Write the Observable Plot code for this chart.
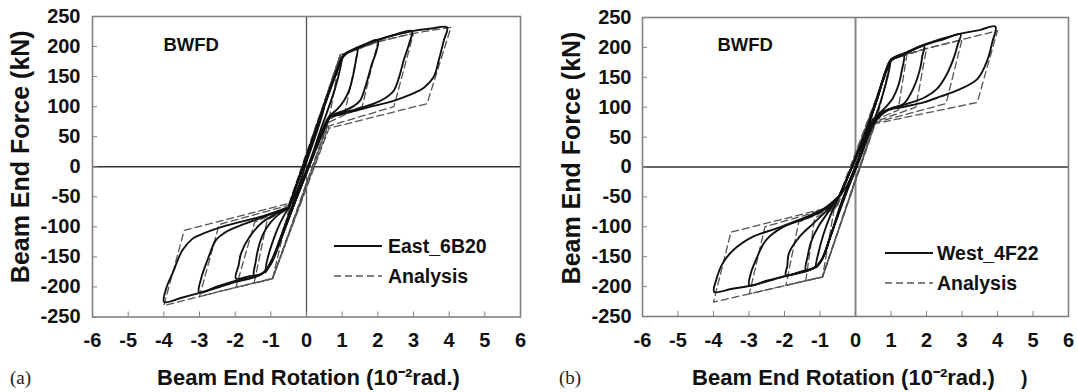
<!DOCTYPE html>
<html><head><meta charset="utf-8">
<script src="https://cdn.jsdelivr.net/npm/d3@7"></script>
<script src="https://cdn.jsdelivr.net/npm/@observablehq/plot@0.6"></script>
<style>
body{margin:0;background:#fff;}
#wrap{position:relative;width:1078px;height:392px;display:flex;}
.panel{position:relative;width:539px;height:392px;}
.panel svg{display:block;}
.tag{position:absolute;font-family:"Liberation Serif",serif;font-size:19px;line-height:22px;color:#222;}
.lt{position:absolute;font-family:"Liberation Sans",Arial,sans-serif;font-weight:bold;font-size:19.5px;line-height:22px;color:#111;white-space:nowrap;}
.sw{position:absolute;}
</style></head><body>
<div id="wrap"><div class="panel" id="pa"></div><div class="panel" id="pb"></div></div>
<script>
// ---- tick values ----
const xTicks = [-6,-5,-4,-3,-2,-1,0,1,2,3,4,5,6];
const yTicks = [-250,-200,-150,-100,-50,0,50,100,150,200,250];

// ---- (a) East_6B20 test cycles [rotation (10^-2 rad), force (kN)] ----
const eastTest05 = [[-0.45,-62],[-0.1,0],[0.25,58],[0.5,98],[0.3,60],[0,8],[-0.25,-38],[-0.45,-62]];
const eastTest1 = [[-0.5,-68],[-0.1,0],[0.3,68],[0.6,118],[0.85,160],[1.0,183],[0.95,165],[0.8,130],[0.6,95],[0.4,62],[0.1,10],[-0.2,-35],[-0.5,-80],[-0.8,-130],[-1.0,-160],[-1.15,-176],[-1.1,-155],[-0.95,-125],[-0.75,-95],[-0.5,-68]];
const eastTest15 = [[-0.5,-68],[-0.1,0],[0.4,85],[0.8,152],[1.05,186],[1.25,192],[1.42,196],[1.38,175],[1.3,150],[1.2,128],[1.05,110],[0.85,95],[0.65,85],[0.45,62],[0.1,5],[-0.3,-55],[-0.7,-115],[-1.0,-158],[-1.2,-176],[-1.47,-181],[-1.43,-160],[-1.35,-135],[-1.2,-110],[-1.0,-92],[-0.75,-78],[-0.5,-68]];
const eastTest2 = [[-0.5,-68],[-0.1,0],[0.4,85],[0.8,150],[1.0,180],[1.15,190],[1.5,199],[2.0,211],[1.95,190],[1.84,172],[1.65,133],[1.5,110],[1.3,100],[1.0,92],[0.7,85],[0.5,65],[0.1,8],[-0.3,-52],[-0.7,-115],[-1.0,-160],[-1.25,-178],[-1.6,-182],[-1.98,-186],[-1.9,-163],[-1.84,-145],[-1.6,-117],[-1.23,-92],[-0.9,-80],[-0.5,-68]];
const eastTest3 = [[-0.5,-68],[-0.1,0],[0.4,85],[0.8,152],[1.05,185],[1.3,195],[2.0,211],[2.5,220],[2.95,226],[2.88,205],[2.73,178],[2.6,150],[2.45,127],[2.2,114],[1.89,105],[1.4,96],[0.9,88],[0.65,82],[0.45,58],[0.1,5],[-0.3,-55],[-0.7,-118],[-1.0,-160],[-1.25,-178],[-2.0,-190],[-2.5,-199],[-3.01,-209],[-2.95,-185],[-2.78,-156],[-2.54,-122],[-2.3,-110],[-2.07,-103],[-1.5,-90],[-1.0,-79],[-0.5,-68]];
const eastTest4 = [[-0.5,-68],[-0.1,0],[0.4,85],[0.8,152],[1.05,186],[1.4,197],[2.0,211],[3.0,226],[3.5,230],[3.94,232],[3.85,210],[3.72,180],[3.57,150],[3.3,132],[3.1,125],[2.7,115],[2.35,108],[1.8,100],[1.42,94],[0.9,86],[0.67,83],[0.5,62],[0.1,5],[-0.3,-55],[-0.7,-118],[-1.0,-162],[-1.3,-180],[-2.0,-192],[-3.0,-210],[-3.5,-218],[-3.99,-225],[-3.92,-200],[-3.76,-178],[-3.48,-139],[-3.2,-120],[-3.01,-114],[-2.26,-98],[-1.33,-84],[-0.5,-67]];

// ---- (a) analysis cycles ----
const eastAna1 = [[-0.49,-70],[0.95,186],[0.63,78],[-0.95,-186],[-0.49,-70]];
const eastAna15 = [[-0.49,-70],[0.95,186],[1.45,196],[1.09,94],[0.63,78],[-0.95,-186],[-1.47,-194],[-1.1,-88],[-0.49,-70]];
const eastAna2 = [[-0.49,-68],[0.95,186],[1.45,196],[2.0,208],[1.56,100],[0.63,74],[-0.95,-186],[-1.98,-201],[-1.45,-92],[-0.49,-68]];
const eastAna3 = [[-0.49,-64],[0.95,186],[1.45,196],[2.0,208],[3.0,222],[2.45,100],[0.63,68],[-0.95,-186],[-2.0,-201],[-3.0,-216],[-2.45,-96],[-0.49,-64]];
const eastAna4 = [[-0.49,-61],[0.95,186],[1.45,196],[2.0,208],[3.0,222],[4.05,232],[3.38,105],[0.63,64],[-0.95,-186],[-2.0,-201],[-3.0,-216],[-4.0,-231],[-3.43,-106],[-0.49,-61]];

// ---- (b) West_4F22 test cycles ----
const westTest05 = [[-0.45,-48],[-0.1,0],[0.3,55],[0.5,82],[0.25,42],[0,2],[-0.25,-32],[-0.45,-48]];
const westTest1 = [[-0.45,-48],[-0.1,0],[0.3,60],[0.6,115],[0.85,160],[0.99,178],[0.9,150],[0.7,108],[0.52,78],[0.2,28],[-0.1,-15],[-0.4,-60],[-0.7,-115],[-0.95,-155],[-1.12,-168],[-1.05,-145],[-0.9,-112],[-0.7,-80],[-0.45,-48]];
const westTest15 = [[-0.45,-48],[-0.1,0],[0.3,60],[0.6,112],[0.85,158],[1.0,178],[1.2,184],[1.36,187],[1.3,160],[1.2,135],[1.05,115],[0.85,100],[0.6,85],[0.45,68],[0.1,15],[-0.3,-45],[-0.7,-115],[-0.95,-155],[-1.15,-168],[-1.4,-172],[-1.35,-150],[-1.25,-125],[-1.05,-100],[-0.8,-78],[-0.45,-48]];
const westTest2 = [[-0.45,-48],[-0.1,0],[0.3,60],[0.6,112],[0.85,160],[1.0,178],[1.4,189],[1.93,203],[1.88,185],[1.83,167],[1.64,133],[1.36,106],[1.0,98],[0.7,90],[0.5,72],[0.1,12],[-0.3,-48],[-0.7,-115],[-0.95,-155],[-1.15,-168],[-1.5,-174],[-1.96,-181],[-1.92,-165],[-1.88,-145],[-1.58,-117],[-1.2,-95],[-0.8,-72],[-0.45,-48]];
const westTest3 = [[-0.45,-48],[-0.1,0],[0.3,60],[0.6,112],[0.85,160],[1.0,179],[1.4,190],[1.95,204],[2.5,214],[2.96,222],[2.88,205],[2.8,188],[2.58,156],[2.3,131],[1.9,115],[1.3,103],[0.9,95],[0.52,74],[0.1,12],[-0.3,-48],[-0.7,-115],[-0.95,-155],[-1.15,-168],[-1.96,-182],[-2.5,-190],[-2.99,-198],[-2.95,-178],[-2.81,-156],[-2.53,-123],[-2.06,-101],[-1.4,-86],[-0.85,-70],[-0.45,-48]];
const westTest4 = [[-0.45,-48],[-0.1,0],[0.3,60],[0.6,112],[0.85,160],[1.0,180],[1.4,191],[1.95,205],[2.96,223],[3.5,229],[3.94,235],[3.85,208],[3.71,178],[3.43,147],[2.86,128],[2.4,118],[1.92,108],[1.3,100],[0.89,94],[0.52,72],[0.1,10],[-0.3,-50],[-0.7,-115],[-0.95,-155],[-1.2,-170],[-2.0,-183],[-3.0,-199],[-3.5,-204],[-3.98,-209],[-3.92,-188],[-3.75,-162],[-3.46,-140],[-2.9,-117],[-2.24,-103],[-1.4,-84],[-0.9,-70],[-0.45,-48]];

// ---- (b) analysis cycles ----
const westAna1 = [[-0.6,-70],[1.0,180],[0.62,84],[-0.93,-184],[-0.6,-70]];
const westAna15 = [[-0.58,-70],[1.0,180],[1.45,189],[1.2,95],[0.6,80],[-0.93,-184],[-1.4,-190],[-1.15,-85],[-0.58,-70]];
const westAna2 = [[-0.55,-67],[1.0,180],[1.45,189],[2.0,198],[1.7,100],[0.56,76],[-0.93,-184],[-1.4,-190],[-1.96,-198],[-1.6,-92],[-0.55,-67]];
const westAna3 = [[-0.52,-65],[1.0,180],[2.0,198],[3.0,213],[2.55,106],[0.54,74],[-0.93,-184],[-1.96,-198],[-2.99,-212],[-2.55,-100],[-0.52,-65]];
const westAna4 = [[-0.5,-64],[1.0,180],[2.0,198],[3.0,213],[4.0,228],[3.43,108],[0.52,72],[-0.93,-184],[-1.96,-198],[-2.99,-212],[-4.0,-226],[-3.51,-109],[-0.5,-64]];

const eastLabel = "East_6B20", westLabel = "West_4F22", anaLabel = "Analysis";
const yTitle = "Beam End Force (kN)";
const xTitle = "Beam End Rotation (10\u207B\u00B2rad.)";

function rows(list){
  return list.flatMap(([name, pts]) => pts.map(([x, y]) => ({cycle: name, x, y})));
}

const FONT = "'Liberation Sans', Arial, sans-serif";

function makePanel(cfg){
  return Plot.plot({
    width: 539, height: 392,
    marginLeft: cfg.ml, marginRight: cfg.mr, marginTop: cfg.mt, marginBottom: cfg.mb,
    style: {fontFamily: FONT, fontWeight: "bold", fontSize: "20px", color: "#111", background: "#fff", overflow: "visible"},
    x: {domain: [-6, 6], label: null},
    y: {domain: [-250, 250], label: null},
    marks: [
      Plot.ruleX([0], {stroke: cfg.vz, strokeWidth: cfg.vzw}),
      Plot.ruleY([0], {stroke: "#333", strokeWidth: 1.3}),
      Plot.line(cfg.ana, {x: "x", y: "y", z: "cycle", stroke: "#555", strokeWidth: 1.3, strokeDasharray: "7,4"}),
      Plot.line(cfg.test, {x: "x", y: "y", z: "cycle", stroke: "#111", strokeWidth: 1.9, curve: "catmull-rom", strokeLinejoin: "round"}),
      Plot.frame({stroke: "#808080", strokeWidth: 1.6}),
      Plot.axisX({ticks: xTicks, tickSize: -5, tickFormat: () => "", stroke: "#808080", label: null}),
      Plot.axisX({ticks: xTicks, tickSize: 0, tickPadding: 16, tickFormat: d => String(d), label: null, fill: "#111", fontSize: 20}),
      Plot.axisY({ticks: yTicks, tickSize: -5, tickFormat: () => "", stroke: "#808080", label: null}),
      Plot.axisY({ticks: yTicks, tickSize: 0, tickPadding: cfg.ypad, tickFormat: d => String(d), label: null, fill: "#111", fontSize: 20}),
      Plot.text([yTitle], {text: d => d, frameAnchor: "left", rotate: -90, dx: cfg.ytx, dy: cfg.yty, fontSize: 25, textAnchor: "middle", lineAnchor: "middle", fill: "#111"}),
      Plot.text([xTitle], {text: d => d, frameAnchor: "bottom", dx: cfg.xtx, dy: 61, fontSize: 22, textAnchor: "middle", lineAnchor: "middle", fill: "#111"}),
      Plot.text(["BWFD"], {text: d => d, frameAnchor: "top-left", dx: cfg.bx, dy: cfg.by, fontSize: 18.5, textAnchor: "start", lineAnchor: "middle", fill: "#111"})
    ]
  });
}

const eastTestRows = rows([["0.5", eastTest05], ["1", eastTest1], ["1.5", eastTest15], ["2", eastTest2], ["3", eastTest3], ["4", eastTest4]]);
const eastAnaRows = rows([["1", eastAna1], ["1.5", eastAna15], ["2", eastAna2], ["3", eastAna3], ["4", eastAna4]]);
const westTestRows = rows([["0.5", westTest05], ["1", westTest1], ["1.5", westTest15], ["2", westTest2], ["3", westTest3], ["4", westTest4]]);
const westAnaRows = rows([["1", westAna1], ["1.5", westAna15], ["2", westAna2], ["3", westAna3], ["4", westAna4]]);

const pa = document.getElementById("pa"), pb = document.getElementById("pb");
pa.append(makePanel({ml: 92, mr: 19, mt: 16, mb: 75.5, ypad: 12, ytx: -72, yty: -10, xtx: 2, bx: 71, by: 29, vz: "#555", vzw: 1.3, test: eastTestRows, ana: eastAnaRows}));
pb.append(makePanel({ml: 103, mr: 10, mt: 17, mb: 76, ypad: 11, ytx: -71, yty: -9, xtx: -12, bx: 75, by: 28, vz: "#888", vzw: 2, test: westTestRows, ana: westAnaRows}));

function addText(parent, cls, txt, left, cy){
  const d = document.createElement("div");
  d.className = cls; d.textContent = txt;
  d.style.left = left + "px"; d.style.top = (cy - 11) + "px";
  parent.append(d);
}
function addSwatch(parent, left, cy, dashed){
  const ns = "http://www.w3.org/2000/svg";
  const s = document.createElementNS(ns, "svg");
  s.setAttribute("class", "sw"); s.setAttribute("width", 48); s.setAttribute("height", 6);
  s.style.left = left + "px"; s.style.top = (cy - 3) + "px";
  const l = document.createElementNS(ns, "line");
  l.setAttribute("x1", 0); l.setAttribute("x2", 48); l.setAttribute("y1", 3); l.setAttribute("y2", 3);
  l.setAttribute("stroke", dashed ? "#555" : "#111");
  l.setAttribute("stroke-width", dashed ? 1.3 : 1.8);
  if (dashed) l.setAttribute("stroke-dasharray", "7,4");
  s.append(l); parent.append(s);
}
addSwatch(pa, 334, 246, false); addText(pa, "lt", eastLabel, 388, 246);
addSwatch(pa, 334, 276, true); addText(pa, "lt", anaLabel, 388, 276);
addSwatch(pb, 346, 253, false); addText(pb, "lt", westLabel, 398, 253);
addSwatch(pb, 346, 283, true); addText(pb, "lt", anaLabel, 398, 283);
addText(pa, "tag", "(a)", 10, 378);
addText(pb, "tag", "(b)", 20, 378);
addText(pb, "lt", ")", 482, 378);
</script>
</body></html>
